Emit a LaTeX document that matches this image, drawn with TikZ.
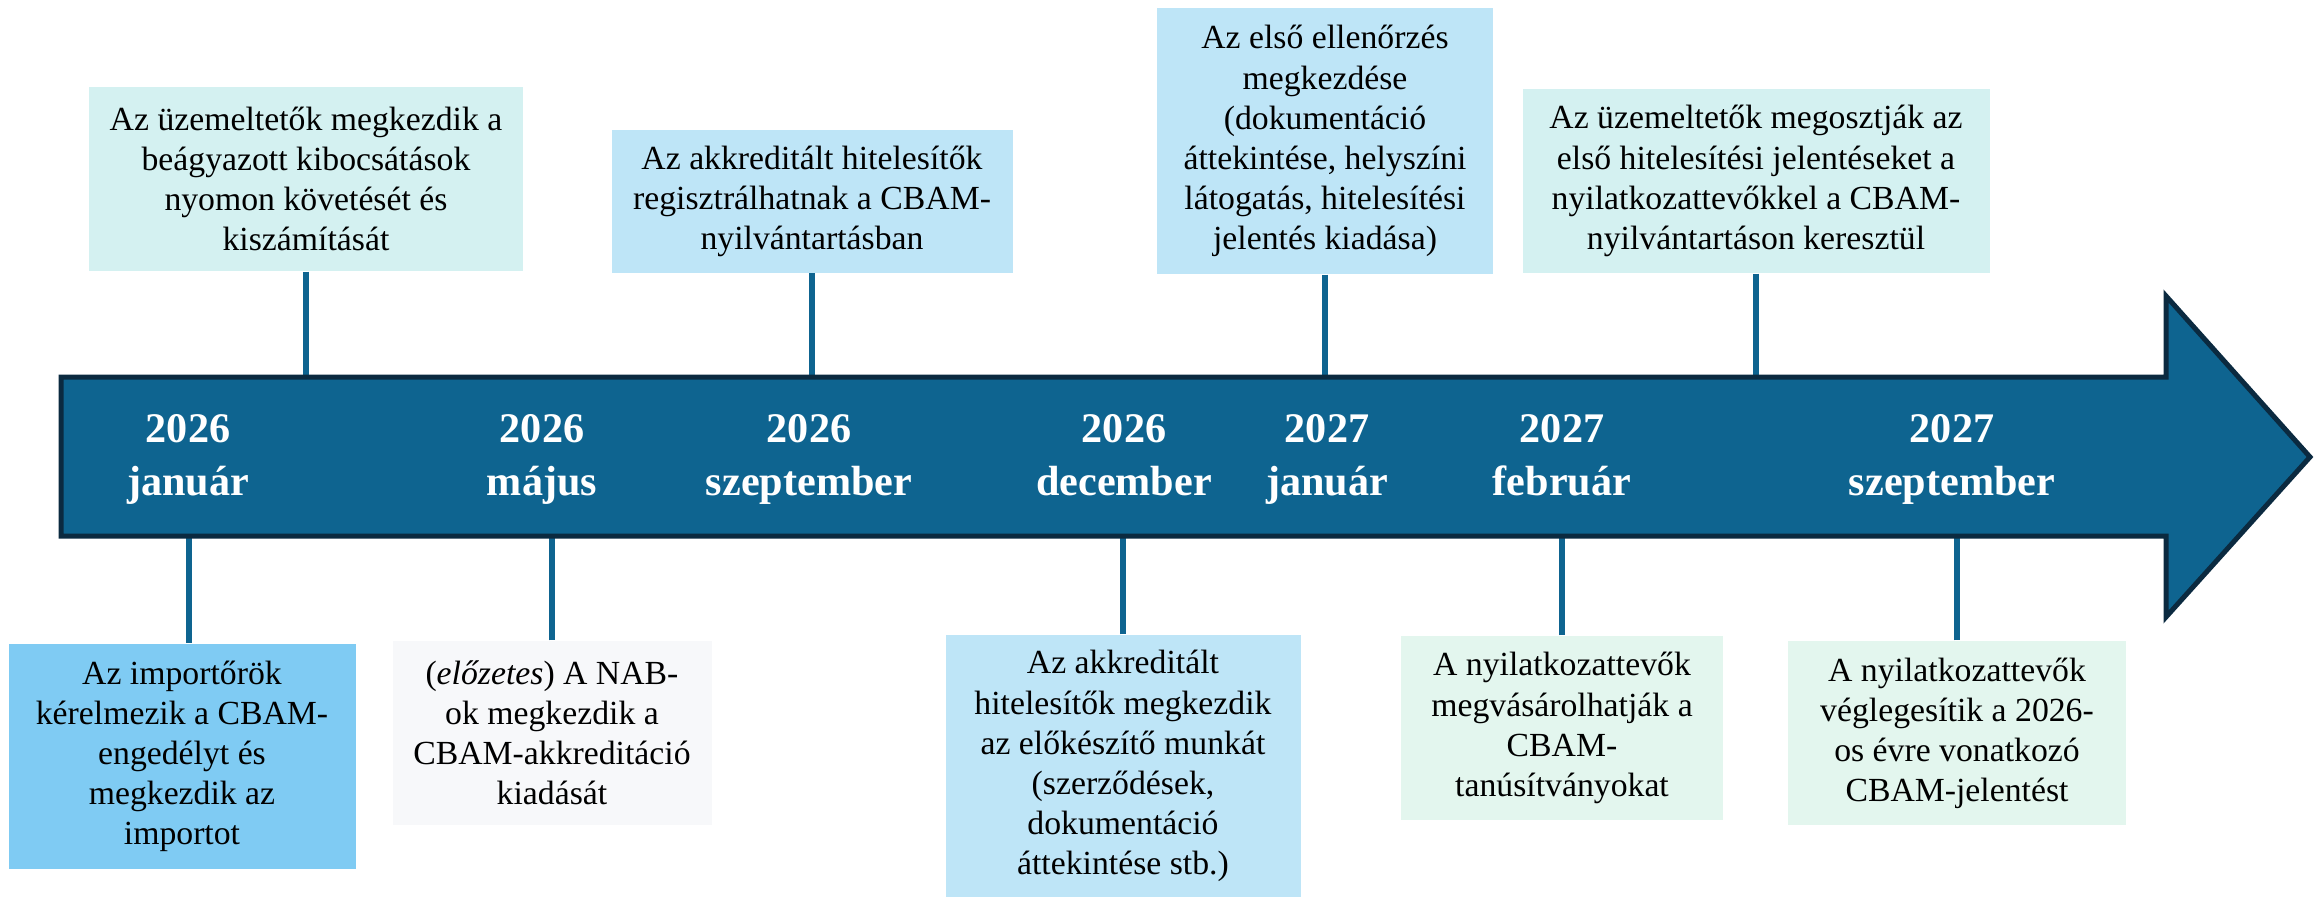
\documentclass[tikz,border=0pt]{standalone}
\usepackage{fontspec}
\setmainfont{Liberation Serif}

\definecolor{arrowblue}{HTML}{0E6490}
\definecolor{arrowedge}{HTML}{0B2A40}
\definecolor{tealbox}{HTML}{D4F1F1}
\definecolor{skybox}{HTML}{BEE5F7}
\definecolor{deepbox}{HTML}{7FCBF3}
\definecolor{greybox}{HTML}{F7F8FA}
\definecolor{mintbox}{HTML}{E3F6EE}

\begin{document}
\begin{tikzpicture}[
        x=0.1mm, y=-0.1mm,
        event/.style={inner sep=0pt, align=center,
            font=\fontsize{9.6}{11.4}\selectfont},
        datelabel/.style={inner sep=0pt, align=center, text=white,
            text height=9pt, text depth=3pt,
            font=\bfseries\fontsize{12}{15}\selectfont},
        stem/.style={draw=arrowblue, line width=0.65mm}
    ]
        \useasboundingbox (0,0) rectangle (2315,897);

        \coordinate (bodytop) at (0,377);
        \coordinate (bodybottom) at (0,536);

        % boxes above the arrow
        \node[
            event,
            fill=tealbox,
            minimum width=43.4mm,
            minimum height=18.4mm,
            name=evA
        ] at (306,179) {Az üzemeltetők megkezdik a\\beágyazott kibocsátások\\nyomon követését és\\kiszámítását};
        \node[
            event,
            fill=skybox,
            minimum width=40.1mm,
            minimum height=14.3mm,
            name=evB
        ] at (812,201) {Az akkreditált hitelesítők\\regisztrálhatnak a CBAM-\\nyilvántartásban};
        \node[
            event,
            fill=skybox,
            minimum width=33.6mm,
            minimum height=26.6mm,
            name=evC
        ] at (1325,141) {Az első ellenőrzés\\megkezdése\\(dokumentáció\\áttekintése, helyszíni\\látogatás, hitelesítési\\jelentés kiadása)};
        \node[
            event,
            fill=tealbox,
            minimum width=46.7mm,
            minimum height=18.4mm,
            name=evD
        ] at (1756,181) {Az üzemeltetők megosztják az\\első hitelesítési jelentéseket a\\nyilatkozattevőkkel a CBAM-\\nyilvántartáson keresztül};

        % boxes below the arrow
        \node[
            event,
            fill=deepbox,
            minimum width=34.7mm,
            minimum height=22.5mm,
            name=evE
        ] at (182,756) {Az importőrök\\kérelmezik a CBAM-\\engedélyt és\\megkezdik az\\importot};
        \node[
            event,
            fill=greybox,
            minimum width=31.9mm,
            minimum height=18.4mm,
            name=evF
        ] at (552,733) {(\textit{előzetes}) A NAB-\\ok megkezdik a\\CBAM-akkreditáció\\kiadását};
        \node[
            event,
            fill=skybox,
            minimum width=35.5mm,
            minimum height=26.2mm,
            name=evG
        ] at (1123,766) {Az akkreditált\\hitelesítők megkezdik\\az előkészítő munkát\\(szerződések,\\dokumentáció\\áttekintése stb.)};
        \node[
            event,
            fill=mintbox,
            minimum width=32.2mm,
            minimum height=18.4mm,
            name=evH
        ] at (1562,728) {A nyilatkozattevők\\megvásárolhatják a\\CBAM-\\tanúsítványokat};
        \node[
            event,
            fill=mintbox,
            minimum width=33.8mm,
            minimum height=18.4mm,
            name=evI
        ] at (1957,733) {A nyilatkozattevők\\véglegesítik a 2026-\\os évre vonatkozó\\CBAM-jelentést};

        \draw[stem] (evA.south) -- (evA.south |- bodytop);
        \draw[stem] (evB.south) -- (evB.south |- bodytop);
        \draw[stem] (evC.south) -- (evC.south |- bodytop);
        \draw[stem] (evD.south) -- (evD.south |- bodytop);

        \draw[stem] ([xshift=0.7mm]evE.north) -- ([xshift=0.7mm]evE.north |- bodybottom);
        \draw[stem] (evF.north) -- (evF.north |- bodybottom);
        \draw[stem] (evG.north) -- (evG.north |- bodybottom);
        \draw[stem] (evH.north) -- (evH.north |- bodybottom);
        \draw[stem] (evI.north) -- (evI.north |- bodybottom);

        % the time arrow
        \draw[fill=arrowblue, draw=arrowedge, line width=0.5mm]
            (61,377) -- (2166,377) -- (2166,296) -- (2310,457)
            -- (2166,617) -- (2166,536) -- (61,536) -- cycle;

        \node[datelabel, name=d1] at (188,485) {2026\\január};
        \node[datelabel, name=d2] at (542,485) {2026\\május};
        \node[datelabel, name=d3] at (809,485) {2026\\szeptember};
        \node[datelabel, name=d4] at (1124,485) {2026\\december};
        \node[datelabel, name=d5] at (1327,485) {2027\\január};
        \node[datelabel, name=d6] at (1562,485) {2027\\február};
        \node[datelabel, name=d7] at (1952,485) {2027\\szeptember};
\end{tikzpicture}
\end{document}
